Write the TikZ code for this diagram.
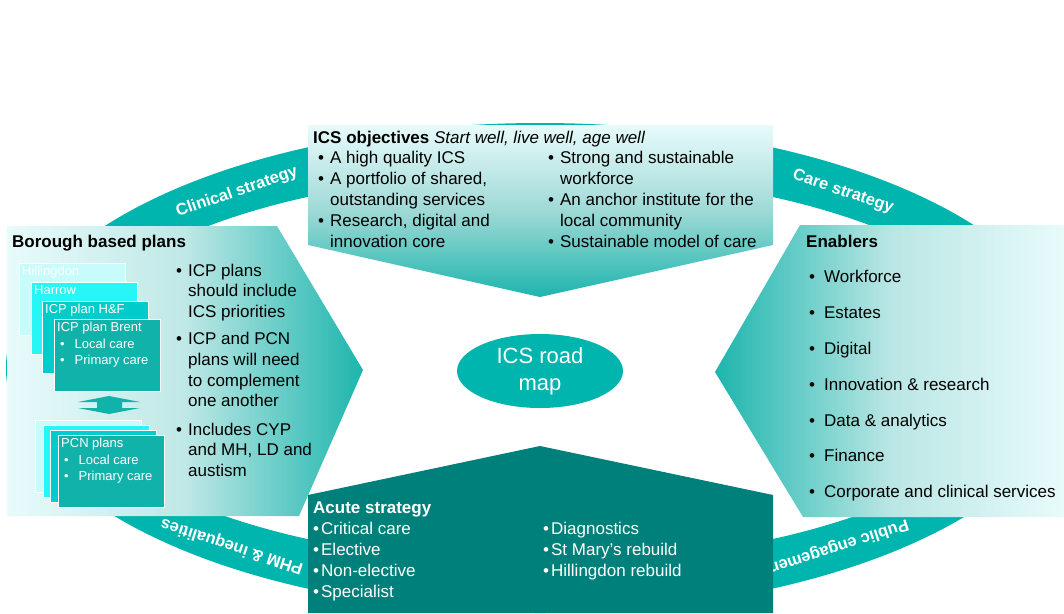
\documentclass[tikz,border=0pt]{standalone}
\usepackage{fontspec}
\setmainfont{Liberation Sans}
\usepackage{tikz}
\usetikzlibrary{shapes.geometric}
\definecolor{ringteal}{RGB}{0,181,173}
\definecolor{darkteal}{RGB}{0,128,122}
\definecolor{paleteal}{RGB}{232,251,251}
\definecolor{midteal}{RGB}{29,181,173}
\definecolor{cardA}{RGB}{200,252,252}
\definecolor{cardB}{RGB}{40,245,245}
\definecolor{cardC}{RGB}{0,204,204}
\definecolor{cardD}{RGB}{16,178,170}
\tikzstyle{ringlabel} = [text=white, inner sep=0pt, font=\fontsize{16.5}{20}\selectfont\bfseries]
\tikzstyle{head} = [anchor=base west, inner sep=0pt, font=\fontsize{17}{21}\selectfont\bfseries]
\tikzstyle{body} = [anchor=base west, inner sep=0pt, font=\fontsize{17}{21}\selectfont]
\tikzstyle{card} = [rectangle, draw=white, line width=0.8pt, minimum width=106pt, minimum height=72pt, anchor=north west, inner sep=0pt]
\tikzstyle{cardtxt} = [anchor=north west, inner xsep=3pt, inner ysep=3pt, text=white, align=left, font=\fontsize{13}{16.5}\selectfont]

\begin{document}
\begin{tikzpicture}[x=1pt,y=-1pt]
        \useasboundingbox (0,0) rectangle (1064,613);
        % ring
        \fill[ringteal, even odd rule] (540,368) ellipse [x radius=534pt, y radius=245pt]
            (540,368) ellipse [x radius=484pt, y radius=195pt];
        \node[ringlabel, rotate=19] (clin) at (237,192) {Clinical strategy};
        \node[ringlabel, rotate=-19] (care) at (843,192) {Care strategy};
        \node[ringlabel, rotate=162] (phm) at (232,546) {PHM \& inequalities};
        \node[ringlabel, rotate=198] (pub) at (836,547) {Public engagement};
        \node[ellipse, fill=ringteal, minimum width=166pt, minimum height=74pt, inner sep=0pt, text=white, align=center,
            font=\fontsize{22}{27}\selectfont] (roadmap) at (540,371) {ICS road\\map};

        % ICS objectives
        \shade[top color=paleteal, bottom color=midteal, middle color={rgb,255:red,158;green,217;blue,214}]
            (308,125) -- (773,125) -- (773,245) -- (540,297) -- (308,245) -- cycle;
        \node[head] (objhead) at (313,143) {ICS objectives {\mdseries\itshape Start well, live well, age well}};
        \node[body] (objleft) at (318,163) {\begin{tabular}[t]{@{}l@{\hspace{6pt}}l@{}}
            \textbullet & A high quality ICS\\
            \textbullet & A portfolio of shared,\\
             & outstanding services\\
            \textbullet & Research, digital and\\
             & innovation core
            \end{tabular}};
        \node[body] (objright) at (548,163) {\begin{tabular}[t]{@{}l@{\hspace{6pt}}l@{}}
            \textbullet & Strong and sustainable\\
             & workforce\\
            \textbullet & An anchor institute for the\\
             & local community\\
            \textbullet & Sustainable model of care
            \end{tabular}};

        % Borough based plans
        \shade[left color=paleteal, right color=midteal, middle color={rgb,255:red,191;green,232;blue,230}]
            (7,226) -- (277,226) -- (363,370) -- (299,516) -- (7,516) -- cycle;
        \node[head] (borhead) at (12,247) {Borough based plans};
        \node[body, font=\fontsize{17}{20.6}\selectfont] (bortxt) at (176,276) {\begin{tabular}[t]{@{}l@{\hspace{6pt}}l@{}}
            \textbullet & ICP plans\\
             & should include\\
             & ICS priorities\\[7pt]
            \textbullet & ICP and PCN\\
             & plans will need\\
             & to complement\\
             & one another\\[8pt]
            \textbullet & Includes CYP\\
             & and MH, LD and\\
             & austism
            \end{tabular}};
        \node[card, fill=cardA] (hill) at (19,263) {};
        \node[cardtxt] (hilltxt) at (hill.north west) {Hillingdon};
        \node[card, fill=cardB] (harrow) at (31,282) {};
        \node[cardtxt] (harrowtxt) at (harrow.north west) {Harrow};
        \node[card, fill=cardC] (hf) at (42,301) {};
        \node[cardtxt] (hftxt) at (hf.north west) {ICP plan H\&F};
        \node[card, fill=cardD] (brent) at (54,319) {};
        \node[cardtxt] (brenttxt) at (brent.north west) {ICP plan Brent\\
            \hspace*{3pt}\textbullet\hspace{10pt}Local care\\ \hspace*{3pt}\textbullet\hspace{10pt}Primary care};
        \fill[cardD] (109,396) -- (140,402) -- (122,402) -- (122,408) -- (140,408) -- (109,414)
            -- (78,408) -- (97,408) -- (97,402) -- (78,402) -- cycle;
        \node[card, fill=cardA] (pcna) at (35,420) {};
        \node[card, fill=cardB] (pcnb) at (43,425) {};
        \node[card, fill=cardC] (pcnc) at (50,430) {};
        \node[card, fill=cardD] (pcn) at (58,435) {};
        \node[cardtxt] (pcntxt) at (pcn.north west) {PCN plans\\
            \hspace*{3pt}\textbullet\hspace{10pt}Local care\\ \hspace*{3pt}\textbullet\hspace{10pt}Primary care};

        % Enablers
        \shade[left color=midteal, right color=paleteal, middle color={rgb,255:red,185;green,230;blue,228}]
            (715,372) -- (800,225) -- (1064,225) -- (1064,517) -- (803,517) -- cycle;
        \node[head] (enabhead) at (806,247) {Enablers};
        \foreach \txt [count=\i] in {Workforce, Estates, Digital, Innovation \& research, Data \& analytics,
            Finance, Corporate and clinical services}
            \node[body] (enab\i) at (809,247+35.8*\i) {\textbullet\hspace{9pt}\txt};

        % Acute strategy
        \fill[darkteal] (308,495) -- (540,446) -- (773,495) -- (773,613) -- (308,613) -- cycle;
        \node[head, text=white] (acuhead) at (313,513) {Acute strategy};
        \node[body, text=white] (aculeft) at (313,534) {\begin{tabular}[t]{@{}l@{\hspace{2pt}}l@{}}
            \textbullet & Critical care\\
            \textbullet & Elective\\
            \textbullet & Non-elective\\
            \textbullet & Specialist
            \end{tabular}};
        \node[body, text=white] (acuright) at (543,534) {\begin{tabular}[t]{@{}l@{\hspace{2pt}}l@{}}
            \textbullet & Diagnostics\\
            \textbullet & St Mary’s rebuild\\
            \textbullet & Hillingdon rebuild
            \end{tabular}};
    \end{tikzpicture}
\end{document}
